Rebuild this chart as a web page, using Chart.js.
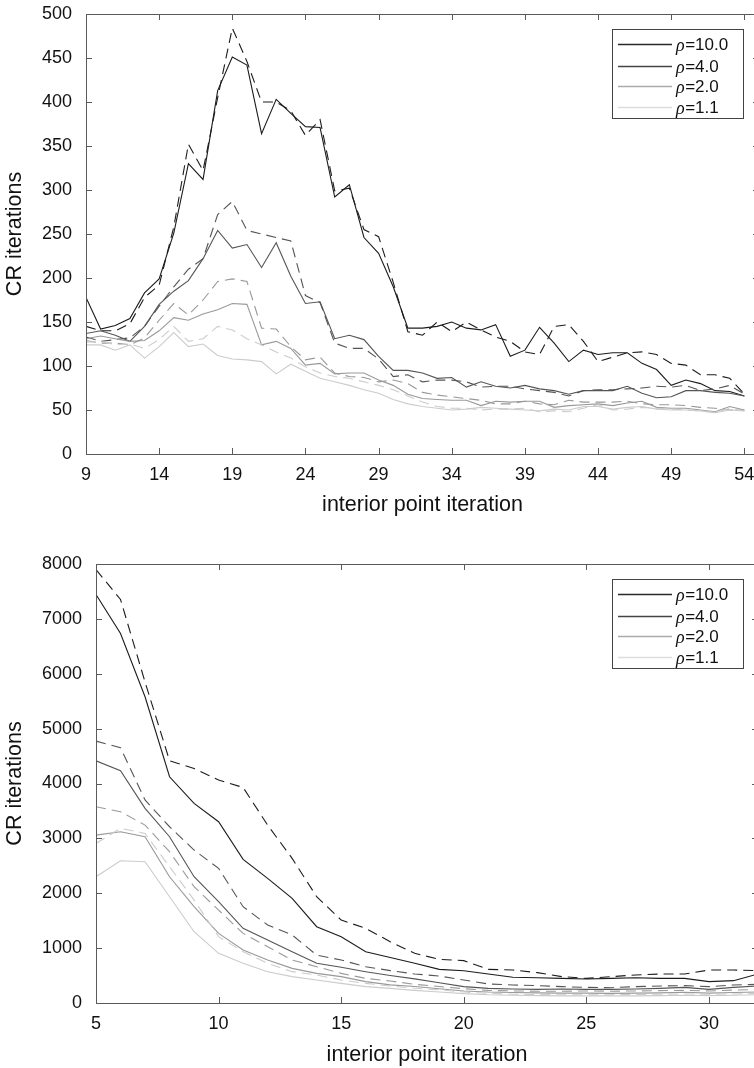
<!DOCTYPE html>
<html>
<head>
<meta charset="utf-8">
<script src="https://cdn.jsdelivr.net/npm/chart.js@4.4.1/dist/chart.umd.min.js"></script>
<style>
    html, body { margin: 0; padding: 0; background: #fff; overflow: hidden; }
    body { width: 754px; height: 1068px; position: relative; }
    .caixa { position: absolute; left: 0; width: 760px; }
    #caixaTopo { top: 0; height: 530px; }
    #caixaBaixo { top: 530px; height: 538px; }
    canvas { display: block; }
</style>
</head>
<body>
<div class="caixa" id="caixaTopo"><canvas id="chartTopo" width="760" height="530" style="width:760px;height:530px"></canvas></div>
<div class="caixa" id="caixaBaixo"><canvas id="chartBaixo" width="760" height="538" style="width:760px;height:538px"></canvas></div>
<script>
// ---- dados: grafico de cima (iteracoes 9..54)
const iterTopo = [9, 10, 11, 12, 13, 14, 15, 16, 17, 18, 19, 20, 21, 22, 23, 24, 25, 26, 27, 28, 29, 30, 31,
    32, 33, 34, 35, 36, 37, 38, 39, 40, 41, 42, 43, 44, 45, 46, 47, 48, 49, 50, 51, 52, 53, 54];
const ticksXTopo = [9, 14, 19, 24, 29, 34, 39, 44, 49, 54];

const topoRho10 = [178, 142, 146, 154, 183, 199, 251, 330, 312, 413, 451, 442, 364, 403, 387, 372, 371, 292, 306, 246, 228, 190, 143,
    143, 145, 150, 143, 141, 147, 111, 118, 144, 126, 105, 118, 113, 115, 115, 103, 96, 78, 84, 80, 72, 71, 66];
const topoRho10Tr = [145, 140, 140, 148, 178, 192, 258, 352, 322, 405, 484, 446, 400, 400, 390, 362, 380, 299, 302, 255, 247, 195, 139,
    135, 150, 139, 150, 141, 133, 128, 116, 113, 145, 147, 128, 105, 110, 115, 116, 113, 103, 101, 90, 90, 86, 68];
const topoRho4 = [137, 140, 135, 128, 145, 170, 185, 197, 222, 254, 234, 238, 212, 240, 202, 171, 173, 131, 135, 130, 111, 95, 95,
    92, 86, 87, 76, 82, 77, 75, 78, 74, 72, 68, 72, 72, 72, 77, 69, 64, 65, 72, 72, 70, 69, 66];
const topoRho4Tr = [133, 128, 130, 132, 145, 168, 190, 210, 222, 272, 287, 254, 250, 246, 242, 180, 172, 126, 120, 120, 108, 88, 90,
    82, 84, 84, 82, 76, 77, 77, 74, 72, 70, 66, 72, 73, 73, 74, 75, 77, 76, 78, 72, 74, 78, 68];
const topoRho2 = [131, 134, 131, 128, 129, 140, 155, 152, 159, 164, 171, 170, 124, 128, 120, 101, 103, 91, 92, 92, 84, 78, 68,
    63, 62, 61, 61, 55, 60, 59, 60, 60, 53, 55, 56, 57, 55, 58, 60, 53, 52, 52, 50, 48, 54, 50];
const topoRho2Tr = [129, 126, 126, 124, 132, 152, 171, 158, 175, 196, 199, 196, 143, 142, 122, 107, 110, 92, 88, 87, 82, 84, 80,
    70, 67, 65, 63, 61, 57, 57, 60, 57, 56, 61, 59, 59, 59, 60, 57, 56, 56, 55, 53, 52, 50, 50];
const topoRho11 = [124, 124, 118, 124, 109, 122, 138, 122, 125, 112, 108, 107, 105, 91, 102, 94, 86, 82, 78, 73, 69, 62, 57,
    54, 52, 50, 51, 53, 52, 51, 50, 49, 51, 50, 54, 54, 51, 53, 54, 51, 50, 50, 49, 47, 50, 49];
const topoRho11Tr = [127, 128, 124, 125, 120, 130, 145, 128, 131, 145, 141, 131, 124, 116, 109, 99, 92, 88, 86, 82, 78, 73, 66,
    59, 54, 52, 52, 50, 51, 51, 52, 48, 49, 48, 52, 56, 50, 51, 53, 52, 51, 50, 49, 47, 52, 49];

// ---- dados: grafico de baixo (iteracoes 5..32)
const iterBaixo = [5, 6, 7, 8, 9, 10, 11, 12, 13, 14, 15, 16, 17, 18, 19, 20, 21, 22, 23, 24, 25, 26, 27, 28, 29, 30, 31, 32];
const ticksXBaixo = [5, 10, 15, 20, 25, 30];

const baixoRho10 = [7444, 6733, 5580, 4123, 3637, 3303, 2617, 2271, 1907, 1390, 1208, 935, 830, 723,
    613, 589, 528, 468, 461, 449, 437, 449, 461, 449, 449, 389, 407, 528];
const baixoRho10Tr = [7899, 7353, 5850, 4414, 4274, 4062, 3928, 3242, 2635, 1937, 1512, 1360, 1117, 905,
    796, 772, 613, 601, 553, 480, 449, 480, 510, 528, 528, 601, 601, 590];
const baixoRho4 = [4414, 4232, 3546, 3030, 2301, 1846, 1360, 1148, 935, 723, 650, 570, 500, 440,
    370, 298, 267, 255, 249, 255, 249, 249, 255, 267, 285, 249, 285, 310];
const baixoRho4Tr = [4772, 4651, 3700, 3212, 2787, 2453, 1755, 1421, 1239, 874, 783, 662, 590, 528,
    492, 419, 346, 328, 316, 298, 285, 279, 298, 310, 316, 298, 328, 340];
const baixoRho2 = [3060, 3121, 3030, 2301, 1755, 1269, 965, 783, 631, 540, 480, 389, 330, 300,
    260, 220, 200, 190, 185, 180, 180, 175, 180, 185, 195, 180, 190, 200];
const baixoRho2Tr = [3576, 3485, 3242, 2757, 2119, 1694, 1269, 1026, 783, 662, 540, 449, 400, 340,
    300, 260, 230, 220, 215, 215, 220, 215, 220, 225, 230, 220, 235, 245];
const baixoRho11 = [2301, 2593, 2574, 1937, 1299, 905, 723, 571, 480, 419, 358, 298, 267, 230,
    200, 170, 150, 140, 135, 130, 130, 130, 130, 135, 140, 135, 140, 150];
const baixoRho11Tr = [2908, 3182, 3090, 2483, 1876, 1208, 935, 723, 571, 510, 419, 358, 310, 270,
    240, 200, 175, 160, 155, 150, 150, 150, 155, 160, 165, 160, 165, 175];

const rotulos = ['10.0', '4.0', '2.0', '1.1'];
const cores = ['#1c1c1c', '#555555', '#999999', '#cccccc'];
const coresLegenda = ['#2a2a2a', '#444444', '#aaaaaa', '#dddddd'];

const fonteEixo = 'Liberation Sans, Arial, Helvetica, sans-serif';

const montarSerie = (xs, ys) => xs.map((x, i) => ({ x: x, y: ys[i] }));

const montarDatasets = (xs, series) => {
    const lista = [];
    series.forEach((par, i) => {
        lista.push({
            label: rotulos[i],
            data: montarSerie(xs, par[0]),
            borderColor: cores[i],
            borderWidth: 1.1,
            pointRadius: 0,
            tension: 0
        });
        lista.push({
            label: '',
            data: montarSerie(xs, par[1]),
            borderColor: cores[i],
            borderWidth: 1.1,
            borderDash: [10, 6],
            pointRadius: 0,
            tension: 0
        });
    });
    // desenha os claros primeiro, escuros por cima
    return lista.reverse();
};

// moldura com ticks para dentro nos quatro lados
const pluginMoldura = {
    id: 'moldura',
    afterDatasetsDraw(chart) {
        const { ctx, chartArea: a, scales } = chart;
        const tam = 6;
        ctx.save();
        ctx.strokeStyle = '#5a5a5a';
        ctx.lineWidth = 1;
        ctx.strokeRect(a.left + 0.5, a.top + 0.5, a.right - a.left, a.bottom - a.top);
        ctx.beginPath();
        scales.x.ticks.forEach((t) => {
            const px = Math.round(scales.x.getPixelForValue(t.value)) + 0.5;
            ctx.moveTo(px, a.bottom);
            ctx.lineTo(px, a.bottom - tam);
            ctx.moveTo(px, a.top);
            ctx.lineTo(px, a.top + tam);
        });
        scales.y.ticks.forEach((t) => {
            const py = Math.round(scales.y.getPixelForValue(t.value)) + 0.5;
            ctx.moveTo(a.left, py);
            ctx.lineTo(a.left + tam, py);
            ctx.moveTo(a.right, py);
            ctx.lineTo(a.right - tam, py);
        });
        ctx.stroke();
        ctx.restore();
    }
};

// legenda em caixa no canto superior direito
const pluginLegenda = {
    id: 'legendaCaixa',
    afterDraw(chart) {
        const { ctx, chartArea: a } = chart;
        const larg = 131;
        const alt = 89;
        const x0 = 612;
        const y0 = a.top + 15;
        ctx.save();
        ctx.fillStyle = '#fff';
        ctx.fillRect(x0, y0, larg, alt);
        ctx.strokeStyle = '#444';
        ctx.lineWidth = 1;
        ctx.strokeRect(Math.round(x0) + 0.5, Math.round(y0) + 0.5, larg, alt);
        const linhas = [15, 37, 57, 78];
        rotulos.forEach((r, i) => {
            const y = Math.round(y0 + linhas[i]) + 0.5;
            ctx.strokeStyle = coresLegenda[i];
            ctx.lineWidth = 1.3;
            ctx.beginPath();
            ctx.moveTo(x0 + 6, y);
            ctx.lineTo(x0 + 60, y);
            ctx.stroke();
            ctx.fillStyle = '#111';
            ctx.textBaseline = 'middle';
            ctx.textAlign = 'left';
            ctx.font = 'italic 18px "Liberation Serif", "DejaVu Serif", serif';
            ctx.fillText('\u03c1', x0 + 64, y + 2);
            const wr = ctx.measureText('\u03c1').width;
            ctx.font = '17px ' + fonteEixo;
            ctx.fillText('=' + r, x0 + 64 + wr + 0.5, y + 1);
        });
        ctx.restore();
    }
};

const criarGrafico = (id, cfg) => {
    const canvas = document.getElementById(id);
    return new Chart(canvas, {
        type: 'line',
        data: { datasets: montarDatasets(cfg.xs, cfg.series) },
        options: {
            responsive: false,
            maintainAspectRatio: false,
            animation: false,
            devicePixelRatio: 1,
            layout: { padding: { top: cfg.padTopo, right: cfg.padDir, left: 0, bottom: 0 } },
            plugins: { legend: { display: false }, tooltip: { enabled: false } },
            scales: {
                x: {
                    type: 'linear',
                    min: cfg.xMin,
                    max: cfg.xMax,
                    afterBuildTicks: (s) => { s.ticks = cfg.ticksX.map((v) => ({ value: v })); },
                    afterFit: (s) => {
                        s.height = cfg.altX;
                        s.paddingLeft = 0;
                        s.paddingRight = 0;
                    },
                    grid: { display: false, drawTicks: false },
                    border: { display: false },
                    ticks: {
                        color: '#111', font: { family: fonteEixo, size: 18 }, padding: 10, maxRotation: 0, autoSkip: false,
                        callback: (v) => String(v)
                    },
                    title: {
                        display: true,
                        text: 'interior point iteration',
                        color: '#111',
                        font: { family: fonteEixo, size: 21.5 },
                        padding: { top: 0, bottom: cfg.padTitX }
                    }
                },
                y: {
                    min: 0,
                    max: cfg.yMax,
                    afterFit: (s) => {
                        s.width = cfg.largY;
                        s.paddingTop = 0;
                        s.paddingBottom = 0;
                    },
                    grid: { display: false, drawTicks: false },
                    border: { display: false },
                    ticks: {
                        stepSize: cfg.yPasso, color: '#111', font: { family: fonteEixo, size: 18 }, padding: 14,
                        callback: (v) => String(v)
                    },
                    title: {
                        display: true,
                        text: 'CR iterations',
                        color: '#111',
                        font: { family: fonteEixo, size: 21.5 },
                        padding: { top: 2, bottom: 0 }
                    }
                }
            }
        },
        plugins: [pluginMoldura, pluginLegenda]
    });
};

criarGrafico('chartTopo', {
    xs: iterTopo,
    series: [[topoRho10, topoRho10Tr], [topoRho4, topoRho4Tr], [topoRho2, topoRho2Tr], [topoRho11, topoRho11Tr]],
    xMin: 9, xMax: 55, ticksX: ticksXTopo,
    yMax: 500, yPasso: 50,
    padTopo: 14, padDir: 1, altX: 76, largY: 86, padTitX: 12
});

criarGrafico('chartBaixo', {
    xs: iterBaixo,
    series: [[baixoRho10, baixoRho10Tr], [baixoRho4, baixoRho4Tr], [baixoRho2, baixoRho2Tr], [baixoRho11, baixoRho11Tr]],
    xMin: 5, xMax: 32, ticksX: ticksXBaixo,
    yMax: 8000, yPasso: 1000,
    padTopo: 34, padDir: 2, altX: 65, largY: 96, padTitX: 0
});
</script>
</body>
</html>
